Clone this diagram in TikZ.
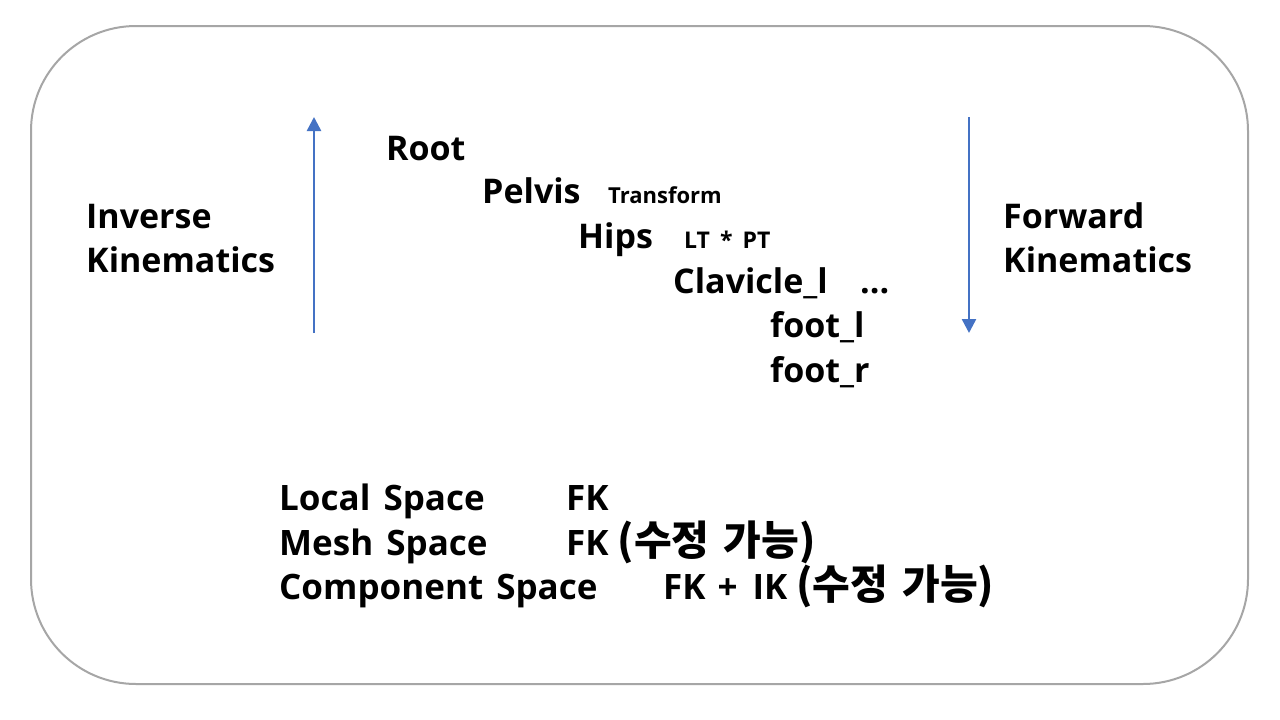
\documentclass[tikz,border=0pt]{standalone}
\usepackage{fontspec}
\setmainfont{Open Sans}
\newfontfamily\krfont{Noto Sans CJK KR}
\usetikzlibrary{arrows.meta}
\definecolor{arrowblue}{HTML}{4472C4}
\definecolor{framegray}{HTML}{A6A6A6}
\tikzset{
  frame/.style={draw=framegray, line width=2pt, rounded corners=105pt},
  lbl/.style={anchor=base west, inner sep=0pt, font=\bfseries\fontsize{34}{40}\selectfont},
  sidelbl/.style={anchor=base west, inner sep=0pt, font=\bfseries\fontsize{34}{40}\selectfont},
  biglbl/.style={anchor=base west, inner sep=0pt, font=\bfseries\fontsize{35}{42}\selectfont},
  smalllbl/.style={anchor=base west, inner sep=0pt, font=\bfseries\fontsize{22}{26}\selectfont},
  midlbl/.style={anchor=base west, inner sep=0pt, font=\bfseries\fontsize{23}{27}\selectfont},
  kin/.style={draw=arrowblue, line width=2.5pt, -{Triangle[width=14pt,length=14pt]}}
}
\newcommand{\kr}[2]{{\krfont\bfseries\fontsize{41}{46}\selectfont (#1\hspace{14pt}#2)}}
\begin{document}
\begin{tikzpicture}[x=1pt,y=-1pt]
\useasboundingbox (0,0) rectangle (1280,720);
\fill[white] (0,0) rectangle (1280,720);
\draw[frame] (31,26) rectangle (1248,684);
% arrows
\coordinate (ikb) at (314,333);
\coordinate (ikt) at (314,117);
\coordinate (fkt) at (969,117);
\coordinate (fkb) at (969,333);
\draw[kin] (ikb) -- (ikt);
\draw[kin] (fkt) -- (fkb);
% side labels
\node[sidelbl] (inv1) at (86,228) {Inverse};
\node[sidelbl] (inv2) at (86,272) {Kinematics};
\node[sidelbl] (fwd1) at (1003,228) {Forward};
\node[sidelbl] (fwd2) at (1003,272) {Kinematics};
% hierarchy
\node[lbl] (root) at (386,160) {Root};
\node[lbl] (pelvis) at (482,203) {Pelvis};
\node[smalllbl] (transform) at (608,203) {Transform};
\node[lbl] (hips) at (578,248) {Hips};
\node[midlbl] (ltpt) at (684,248) {LT\hspace{10pt}*\hspace{10pt}PT};
\node[lbl] (clav) at (673,293) {Clavicle\_l};
\node[lbl] (dots) at (860,293) {...};
\node[lbl] (footl) at (770,337) {foot\_l};
\node[lbl] (footr) at (770,382) {foot\_r};
% spaces
\node[biglbl] (local) at (279,510) {Local\hspace{4pt} Space};
\node[biglbl] (mesh) at (279,555) {Mesh\hspace{4pt} Space};
\node[biglbl] (comp) at (279,599) {Component\hspace{4pt} Space};
\node[biglbl] (localfk) at (566,510) {FK};
\node[biglbl] (meshfk) at (566,555) {FK \kr{수정}{가능}};
\node[biglbl] (compfk) at (663,599) {FK\hspace{12pt}+\hspace{15pt}IK \kr{수정}{가능}};
\end{tikzpicture}
\end{document}
